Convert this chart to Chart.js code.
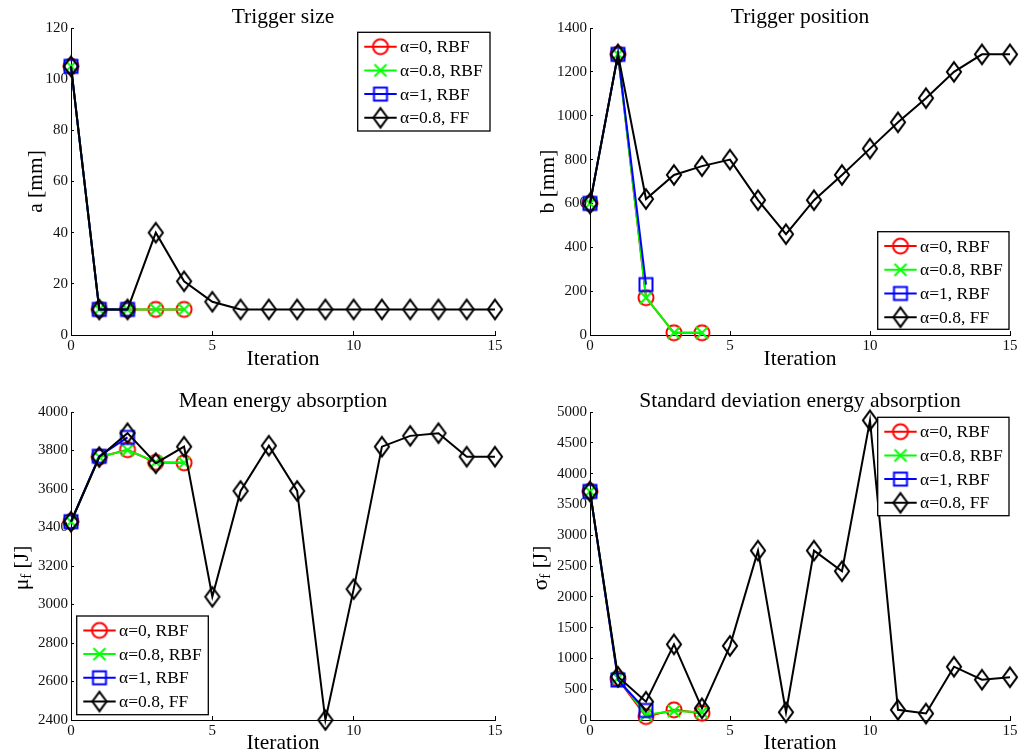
<!DOCTYPE html>
<html><head><meta charset="utf-8">
<script src="https://cdn.jsdelivr.net/npm/chart.js@4.4.1/dist/chart.umd.min.js"></script>
<style>
html,body{margin:0;padding:0;background:#fff;}
#wrap{position:relative;width:1021px;height:756px;overflow:hidden;background:#fff;}
canvas{position:absolute;}
</style></head><body>
<div id="wrap">
<canvas id="c1" width="510" height="378" style="left:0px;top:0px"></canvas>
<canvas id="c2" width="511" height="378" style="left:510px;top:0px"></canvas>
<canvas id="c3" width="510" height="378" style="left:0px;top:378px"></canvas>
<canvas id="c4" width="511" height="378" style="left:510px;top:378px"></canvas>
</div>
<script>
// ---------- data ----------
const iterations = [0,1,2,3,4,5,6,7,8,9,10,11,12,13,14,15];
const seriesLabels = ['α=0, RBF','α=0.8, RBF','α=1, RBF','α=0.8, FF'];
const xTicks = [0,5,10,15];

const sizeTicks = [0,20,40,60,80,100,120];
const sizeRBF0  = [105,10,10,10,10];
const sizeRBF08 = [105,10,10,10,10];
const sizeRBF1  = [105,10,10];
const sizeFF    = [105,10,10,40,21,13,10,10,10,10,10,10,10,10,10,10];

const posTicks = [0,200,400,600,800,1000,1200,1400];
const posRBF0  = [600,1280,170,10,10];
const posRBF08 = [600,1280,170,10,10];
const posRBF1  = [600,1280,230];
const posFF    = [600,1280,620,730,770,800,615,460,615,730,850,970,1080,1200,1280,1280];

const meanTicks = [2400,2600,2800,3000,3200,3400,3600,3800,4000];
const meanRBF0  = [3430,3766,3804,3738,3736];
const meanRBF08 = [3430,3766,3802,3740,3736];
const meanRBF1  = [3430,3770,3868];
const meanFF    = [3430,3766,3890,3734,3820,3040,3590,3825,3590,2400,3080,3820,3876,3890,3768,3768];

const stdTicks = [0,500,1000,1500,2000,2500,3000,3500,4000,4500,5000];
const stdRBF0  = [3710,665,55,165,110];
const stdRBF08 = [3710,680,85,145,125];
const stdRBF1  = [3710,650,155];
const stdFF    = [3710,703,297,1228,190,1204,2750,125,2750,2415,4865,165,105,865,655,695];

// ---------- styling ----------
const FONT = "'Liberation Serif','DejaVu Serif',serif";
const colors = ['#ff0000','#00ff00','#0000ff','#000000'];
const kinds = ['circle','cross','square','diamond'];
const LW = 2;

function makeMarker(kind, color){
  const c = document.createElement('canvas'); c.width = 26; c.height = 26;
  const g = c.getContext('2d'); g.strokeStyle = color; g.lineWidth = LW; g.lineJoin='miter';
  const m = 13;
  g.beginPath();
  if (kind==='circle'){ g.arc(m,m,7.5,0,Math.PI*2); }
  else if (kind==='cross'){ g.moveTo(m-6,m-6); g.lineTo(m+6,m+6); g.moveTo(m+6,m-6); g.lineTo(m-6,m+6); }
  else if (kind==='square'){ g.rect(m-6.5,m-6.5,13,13); }
  else { g.moveTo(m,m-9.7); g.lineTo(m+7.1,m); g.lineTo(m,m+9.7); g.lineTo(m-7.1,m); g.closePath(); }
  g.stroke();
  return c;
}
const markers = kinds.map((k,i)=>makeMarker(k, colors[i]));

function ds(i, values){
  return {
    label: seriesLabels[i],
    data: values.map((v,j)=>({x: iterations[j], y: v})),
    borderColor: colors[i], backgroundColor: colors[i],
    borderWidth: LW, pointStyle: markers[i], pointRadius: 9, pointHoverRadius: 9,
    fill: false, tension: 0, clip: false, order: 3 - i
  };
}

function panel(id, cfg){
  const canvas = document.getElementById(id);
  const W = canvas.width, H = canvas.height;
  const plugin = {
    id: 'panelDecor_' + id,
    afterDraw(chart){
      const ctx = chart.ctx, a = chart.chartArea;
      ctx.save();
      // title
      ctx.fillStyle = '#000';
      ctx.font = '21.5px ' + FONT;
      ctx.textAlign = 'center'; ctx.textBaseline = 'alphabetic';
      ctx.fillText(cfg.title, (a.left + a.right)/2, cfg.titleY);
      // subscript y label
      if (cfg.sub){
        const big = '21.5px ' + FONT, small = '15px ' + FONT;
        ctx.font = big; const w1 = ctx.measureText(cfg.sub[0]).width; const w3 = ctx.measureText(cfg.sub[2]).width;
        ctx.font = small; const w2 = ctx.measureText(cfg.sub[1]).width;
        const tot = w1 + w2 + w3;
        ctx.translate(cfg.subX, (a.top + a.bottom)/2 + 2);
        ctx.rotate(-Math.PI/2);
        ctx.textAlign = 'left'; ctx.textBaseline = 'middle';
        let x0 = -tot/2;
        ctx.font = big; ctx.fillText(cfg.sub[0], x0, 0);
        ctx.font = small; ctx.fillText(cfg.sub[1], x0 + w1, 5);
        ctx.font = big; ctx.fillText(cfg.sub[2], x0 + w1 + w2, 0);
        ctx.setTransform(1,0,0,1,0,0);
      }
      // legend
      const L = cfg.legend;
      ctx.fillStyle = '#fff';
      ctx.fillRect(L.x, L.y, L.w, L.h);
      ctx.strokeStyle = '#000'; ctx.lineWidth = 1.3;
      ctx.strokeRect(L.x, L.y, L.w, L.h);
      chart.data.datasets.forEach((d, i) => {
        const yy = L.y + 14.4 + i * 23.7;
        ctx.strokeStyle = d.borderColor; ctx.lineWidth = LW;
        ctx.beginPath(); ctx.moveTo(L.x + 6.6, yy); ctx.lineTo(L.x + 39, yy); ctx.stroke();
        ctx.drawImage(markers[i], L.x + 22.8 - 13, yy - 13);
        ctx.fillStyle = '#000'; ctx.font = '17.5px ' + FONT;
        ctx.textAlign = 'left'; ctx.textBaseline = 'middle';
        ctx.fillText(d.label, L.x + 42.3, yy + 1);
      });
      ctx.restore();
    }
  };
  const yt = cfg.yTicks;
  const plain = v => String(v);
  return new Chart(canvas, {
    type: 'line',
    data: { datasets: cfg.series.map((v,i)=>ds(i, v)) },
    plugins: [plugin],
    options: {
      responsive: false, animation: false, events: [],
      layout: { padding: { top: cfg.top, right: W - cfg.right, left: 0, bottom: 0 } },
      plugins: { legend: { display: false }, tooltip: { enabled: false }, title: { display: false } },
      scales: {
        x: {
          type: 'linear', min: xTicks[0], max: xTicks[xTicks.length-1],
          afterBuildTicks: s => { s.ticks = xTicks.map(v => ({value: v})); },
          afterFit: s => { s.height = H - cfg.bottom; s.paddingLeft = 0; s.paddingRight = 0; },
          grid: { drawOnChartArea: false, drawTicks: true, tickLength: -4, color: '#000', lineWidth: 1 },
          border: { display: true, color: '#000', width: 1 },
          ticks: { padding: 6, color: '#111', font: { family: FONT, size: 15 }, maxRotation: 0, autoSkip: false, callback: plain },
          title: { display: true, text: 'Iteration', color: '#000', font: { family: FONT, size: 21.5 }, padding: { top: 0, bottom: cfg.xTitlePad } }
        },
        y: {
          type: 'linear', min: yt[0], max: yt[yt.length-1],
          afterBuildTicks: s => { s.ticks = yt.map(v => ({value: v})); },
          afterFit: s => { s.width = cfg.left; s.paddingTop = 0; s.paddingBottom = 0; },
          grid: { drawOnChartArea: false, drawTicks: true, tickLength: -3, color: '#000', lineWidth: 1 },
          border: { display: true, color: '#000', width: 1 },
          ticks: { padding: 6, color: '#111', font: { family: FONT, size: 15 }, autoSkip: false, callback: plain },
          title: { display: !cfg.sub, text: cfg.yTitle || '', color: '#000', font: { family: FONT, size: 21.5 }, padding: { top: cfg.yTitlePad || 0, bottom: 0 } }
        }
      }
    }
  });
}

panel('c1', {
  title: 'Trigger size', titleY: 23.3, top: 28, bottom: 335, left: 71, right: 495,
  yTicks: sizeTicks, series: [sizeRBF0, sizeRBF08, sizeRBF1, sizeFF],
  yTitle: 'a [mm]', yTitlePad: 23, xTitlePad: 6,
  legend: { x: 357.7, y: 32.3, w: 132.3, h: 98.7 }
});
panel('c2', {
  title: 'Trigger position', titleY: 23.3, top: 28, bottom: 335, left: 80, right: 503,
  yTicks: posTicks, series: [posRBF0, posRBF08, posRBF1, posFF],
  yTitle: 'b [mm]', yTitlePad: 25.4, xTitlePad: 6,
  legend: { x: 367.7, y: 231.7, w: 131.3, h: 97.6 }
});
panel('c3', {
  title: 'Mean energy absorption', titleY: 29.3, top: 34, bottom: 342, left: 71, right: 495,
  yTicks: meanTicks, series: [meanRBF0, meanRBF08, meanRBF1, meanFF],
  sub: ['μ','f',' [J]'], subX: 22, xTitlePad: 0,
  legend: { x: 76.7, y: 238, w: 131.6, h: 98.7 }
});
panel('c4', {
  title: 'Standard deviation energy absorption', titleY: 29.3, top: 34, bottom: 342, left: 80, right: 503,
  yTicks: stdTicks, series: [stdRBF0, stdRBF08, stdRBF1, stdFF],
  sub: ['σ','f',' [J]'], subX: 31, xTitlePad: 0,
  legend: { x: 367.7, y: 39.3, w: 131.3, h: 98.4 }
});
</script>
</body></html>
